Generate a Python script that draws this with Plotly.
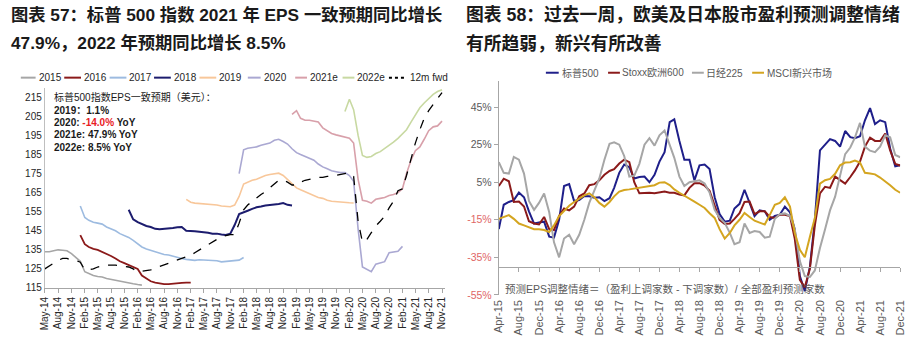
import pandas as pd
import plotly.graph_objects as go

W, H = 922, 350

# ---------------- Left chart data (S&P 500 EPS consensus, USD) ----------------
eps_2015_start = "2014-05-01"
eps_2015 = [134, 134, 134.5, 135, 134.8, 134.5, 133, 131, 129, 123.5, 122.5, 121.5,
            121, 120.8, 120, 119.5, 119, 118.5, 117.8, 117.5, 117.2, 116.8, 116.5]
eps_2016_start = "2015-01-01"
eps_2016 = [142.7, 138, 136.5, 135.5, 135, 134, 133, 131.8, 130.5, 129, 128, 127,
            126.2, 125, 121.5, 119.8, 118.5, 117.8, 117.3, 117, 117, 117.3, 117.5,
            117.7, 117.8, 117.8]
eps_2017_start = "2015-01-01"
eps_2017 = [158, 152, 150.5, 149.5, 149, 148.5, 147, 146, 145, 143.5,
            142.5, 141.5, 140, 138, 136.5, 135.5, 134.8, 134, 133.2, 132.6,
            132.3, 131.6, 131, 130.5, 130, 129.7, 129.5, 129.8, 129.6, 129.5,
            129.3, 129.3, 128.7, 129, 129.2, 129.3, 129.6, 131]
eps_2018_start = "2015-12-01"
eps_2018 = [156, 151, 149.5, 148.5, 147.5, 147, 146, 145.8, 146, 146,
            146.5, 146.8, 147, 145, 145, 144.8, 144.5, 144.3, 144, 143.5,
            143.5, 143, 142.8, 143.5, 148, 153.8, 154.5, 155.5, 156.5, 157.3,
            157.7, 158.3, 158.5, 158.6, 159, 159.5, 158.6, 158.3]
eps_2019_start = "2017-01-01"
eps_2019 = [161.5, 160, 159.5, 159.3, 159.2, 159, 158.8, 158.5, 158, 157.8,
            157.6, 158.5, 163, 169.5, 170.5, 171.5, 172, 173, 174, 174.5,
            175, 175.2, 174, 172, 169.5, 167.5, 166.5, 165.5, 164.5, 163.5,
            162.5, 162, 161, 160.5, 160.2, 160, 159.8, 159.7, 159.6]
eps_2020_start = "2018-01-01"
eps_2020 = [175, 187.5, 188.3, 188.5, 189, 189.8, 190.5, 191, 192.5, 193,
            191.8, 190.5, 188, 186, 185, 184, 183.3, 182, 180, 178.5,
            177.5, 176.5, 176, 175.5, 175.5, 174, 171, 146, 126, 124.5,
            123.5, 127.5, 128, 128.8, 133.5, 134, 134.2, 136.8]
eps_2021e_start = "2019-01-01"
eps_2021e = [206, 208, 204, 203, 203, 202.5, 202, 199, 197.5, 196,
             195.3, 194.8, 194.3, 193.5, 191, 172, 161, 160.5, 159.5, 161.5,
             162, 162.5, 163.5, 164, 165, 167, 175, 182, 187, 189,
             193, 197.5, 199.5, 200, 202.5]
eps_2022e_start = "2020-01-01"
eps_2022e = [207.5, 214, 208.5, 195, 184.5, 183.5, 184, 185.5, 186.5, 188,
             190, 191.5, 193.5, 196, 198, 202, 206, 209.5, 212, 214.5,
             216.5, 218, 219]
fwd_12m_start = "2014-05-01"
fwd_12m = [125, 126.5, 128, 129.5, 130.5, 130.5, 129.5, 129.5, 128.5, 124.5,
           124.5, 125, 126, 126.5, 127, 127, 127, 126.5, 126.3, 126,
           125, 123.5, 123.8, 124, 124.5, 125.5, 126.2, 127, 128, 128.8,
           129.5, 130.5, 131.3, 132, 133.5, 135, 136.5, 138, 139.2, 140.5,
           141.5, 142.5, 143, 143, 149, 156, 158.5, 160.5, 162, 164,
           165.5, 167.5, 170, 171.5, 171.5, 170.5, 169, 169, 170.5, 171.5,
           172, 172.5, 173, 173, 173.5, 173.5, 174, 174.5, 175, 175.5,
           173.5, 150, 139, 140.5, 144, 147.5, 150, 152.6, 157, 160.5,
           166, 167, 174, 183, 191, 198, 204, 208, 211, 214, 217.5]

left_names = ["2015", "2016", "2017", "2018", "2019", "2020", "2021e", "2022e", "12m fwd"]
left_starts = [eps_2015_start, eps_2016_start, eps_2017_start, eps_2018_start,
               eps_2019_start, eps_2020_start, eps_2021e_start, eps_2022e_start, fwd_12m_start]
left_values = [eps_2015, eps_2016, eps_2017, eps_2018, eps_2019, eps_2020,
               eps_2021e, eps_2022e, fwd_12m]
left_yticks = [115, 125, 135, 145, 155, 165, 175, 185, 195, 205, 215]

# ---------------- Right chart data (EPS revision sentiment, %) ----------------
right_start = "2015-04-01"
sp500 = [-20, -7, -5.5, -4.5, -0.5, -3, -10.5, -17, -16.5, -16,
         -24, -24.5, -15, 3, 4, -5, -4.5, -2.3, -2.5, -3.2,
         -3, -5, -3.5, 2, 10, 14.4, 13, 7, 7.8, 8,
         5, 9, 16, 21, 37, 38.5, 27, 17, 17, 6,
         14, 14.4, 12, -3, -12, -16, -15.5, -9, -6.5, 1,
         -6, -13, -10, -10.5, -15, -13, -12.3, -8, -11, -20,
         -45, -53, -40, -15, 22, 25.3, 28, 27, 24, 32.3,
         29, 28.5, 29.5, 38, 44.5, 36, 38, 37, 23, 13.5, 14]
stoxx600 = [3, 6.9, 5.5, -5.5, -5.3, -7.9, -15.8, -17, -17.5, -13.5,
            -20, -20.5, -13, -9, -10, -8, -2.5, -1, 3.4, 4,
            6, 9, 11, 12, 15, 17, 15.7, 5, -0.9, -0.6,
            -0.6, -0.8, -0.5, 0, -0.6, -0.6, -1.5, -2, 2, 4.5,
            4.5, 3.2, 0.5, -7, -15, -17.2, -17, -14.5, -11.5, -5.5,
            -5.3, -12, -10.5, -10.5, -13.5, -14, -12.3, -12.3, -13, -25,
            -47, -51, -41, -18, -1, 2.6, 2, 8, 6.1, 4.3,
            7.8, 11.3, 16, 24, 28.8, 27, 27, 31, 22, 14.8, 13.9]
nikkei225 = [15.7, 10, 9.6, 18.5, 17, 9.6, -5, -9.7, -6, -1,
             -11, -27, -35, -25, -23, -28, -23, -15, -6, 1,
             7, 17, 25.5, 26.3, 25, 19, 8, 8.5, 14.8, 25,
             28.5, 24.5, 30, 32.6, 25, 18, 8, 3, 5, 5.5,
             6, 4.3, -0.5, -9.7, -14, -16.6, -22, -28, -27, -17,
             -22, -21, -21.5, -24.5, -24, -14.5, -12, -11.6, -13, -20,
             -37, -45, -45.5, -42, -30, -20, -10, -2.7, 9, 20,
             23.5, 28.8, 36.6, 24, 21.8, 21, 24, 30, 29, 19.5, 18.3]
msci_em = [-14.5, -13.5, -12.5, -14.5, -17, -18, -19.2, -20, -20.1, -20.5,
           -21.5, -18, -13, -10, -7.5, -5.5, -3.5, -2, -0.9, -3,
           -6, -8, -5.5, -2.5, 0, 0.9, 1.2, 1.7, 2, 2.6,
           3, 3.4, 4.8, 5, 3.5, 1.2, -0.6, -2, -3.8, -5.3,
           -7, -8.7, -11.5, -14, -20, -25, -22, -18, -15, -11.4,
           -13.5, -15.5, -16.5, -17.5, -12.5, -7, -6, -3, -8, -22,
           -31, -35, -24, -14, 4.3, 6.1, 6.8, 9.5, 14, 15.5,
           15.7, 16.5, 15.5, 10, 9.6, 9.2, 7.5, 5.5, 3.4, 1, -0.6]
right_names = ["标普500", "Stoxx欧洲600", "日经225", "MSCI新兴市场"]
right_values = [sp500, stoxx600, nikkei225, msci_em]
right_yticks = [-55, -35, -15, 5, 25, 45]

# ---------------- Styles ----------------
left_colors = ["#a6a6a6", "#8b1a1a", "#9dbbe0", "#1c1c6e", "#f8c79a", "#aaa8d2",
               "#d8a0aa", "#c8d9a2", "#000000"]
left_widths = [1.6, 1.8, 1.6, 2.0, 1.6, 1.6, 1.6, 1.6, 1.3]
right_colors = ["#1f1f8a", "#8b1a1a", "#a6a6a6", "#d4a520"]
FONT = "Liberation Sans, Arial, Noto Sans CJK SC, sans-serif"


def px_x(p):
    return p / W


def px_y(p):
    return 1 - p / H


fig = go.Figure()

for name, start, vals, col, lw in zip(left_names, left_starts, left_values, left_colors, left_widths):
    dates = pd.date_range(start, periods=len(vals), freq="MS")
    fig.add_trace(go.Scatter(
        x=dates, y=vals, mode="lines", name=name, xaxis="x", yaxis="y",
        line=dict(color=col, width=lw, dash="dash" if name == "12m fwd" else "solid"),
    ))

for name, vals, col in zip(right_names, right_values, right_colors):
    dates = pd.date_range(right_start, periods=len(vals), freq="MS")
    fig.add_trace(go.Scatter(
        x=dates, y=vals, mode="lines", name=name, xaxis="x2", yaxis="y2",
        line=dict(color=col, width=2),
    ))

neg_col = "#e06666"
right_ticktext = [
    (f"<span style='color:{neg_col}'>{v}%</span>" if v < 0 else f"{v}%") for v in right_yticks
]

fig.update_layout(
    width=W, height=H, margin=dict(l=0, r=0, t=0, b=0),
    paper_bgcolor="white", plot_bgcolor="white", showlegend=False,
    font=dict(family=FONT, size=10, color="#262626"),
    xaxis=dict(
        domain=[px_x(39.3), px_x(445)], range=["2014-05-01", "2021-11-23"],
        type="date", dtick="M3", tick0="2014-05-01", tickformat="%b-%y",
        tickangle=-90, ticks="outside", ticklen=4, tickcolor="#a6a6a6",
        showline=True, linecolor="#a6a6a6", linewidth=1, showgrid=False, zeroline=False,
        tickfont=dict(size=10, color="#262626"), anchor="y",
    ),
    yaxis=dict(
        domain=[1 - 293 / H, 1 - 89.3 / H], range=[115, 220],
        tickvals=left_yticks, showline=True, linecolor="#bfbfbf", linewidth=1,
        showgrid=False, zeroline=False, ticks="", tickfont=dict(size=10, color="#262626"),
        anchor="x",
    ),
    xaxis2=dict(
        domain=[px_x(499.3), px_x(906)], range=["2015-04-01", "2021-12-01"],
        type="date", dtick="M4", tick0="2015-04-01", tickformat="%b-%y",
        tickangle=-90, ticks="outside", ticklen=4, tickcolor="#a6a6a6",
        showline=True, linecolor="#a6a6a6", linewidth=1, showgrid=False, zeroline=False,
        tickfont=dict(size=11, color="#595959"),
        anchor="free", position=1 - 271.3 / H, ticklabelstandoff=24,
    ),
    yaxis2=dict(
        domain=[1 - 300 / H, 1 - 82.3 / H], range=[-55, 59],
        tickvals=right_yticks, ticktext=right_ticktext,
        showline=True, linecolor="#a6a6a6", linewidth=1, showgrid=False, zeroline=False,
        ticks="outside", ticklen=4, tickcolor="#a6a6a6",
        tickfont=dict(size=10.5, color="#595959"), anchor="x2",
    ),
)

annotations = []
# Titles (x, y, text, size)
titles = [
    (3, 15, "<b>图表 57：标普 500 指数 2021 年 EPS 一致预期同比增长</b>", 17.3),
    (3, 44, "<b>47.9%，2022 年预期同比增长 8.5%</b>", 17.3),
    (464, 15, "<b>图表 58：过去一周，欧美及日本股市盈利预测调整情绪</b>", 17.8),
    (464, 44, "<b>有所趋弱，新兴有所改善</b>", 17.8),
]
for x, y, t, s in titles:
    annotations.append(dict(x=px_x(x), y=px_y(y), xref="paper", yref="paper", text=t,
                            showarrow=False, xanchor="left", yanchor="middle",
                            font=dict(family=FONT, size=s, color="#1a1a1a")))

# Left inner notes
notes = [
    (99, "标普500指数EPS一致预期（美元）："),
    (112, "<b>2019：1.1%</b>"),
    (124.5, "<b>2020: <span style='color:#e8201f'>-14.0%</span> YoY</b>"),
    (137, "<b>2021e: 47.9% YoY</b>"),
    (150, "<b>2022e: 8.5% YoY</b>"),
]
for y, t in notes:
    annotations.append(dict(x=px_x(47), y=px_y(y), xref="paper", yref="paper", text=t,
                            showarrow=False, xanchor="left", yanchor="middle",
                            font=dict(family=FONT, size=10, color="#1a1a1a")))

# Right footnote
annotations.append(dict(x=px_x(504), y=px_y(294), xref="paper", yref="paper",
                        text="预测EPS调整情绪＝（盈利上调家数 - 下调家数）/ 全部盈利预测家数",
                        showarrow=False, xanchor="left", yanchor="middle",
                        font=dict(family=FONT, size=10.5, color="#595959")))

# Manual legends (key line x0, x1, text x)
shapes = []
left_leg_pos = [(15, 30, 31), (59, 76, 77), (105, 122, 123), (150, 167, 168), (196, 213, 214),
                (245, 258, 259), (293, 305, 306), (341, 353, 354), (388, 405, 407)]
for (x0, x1, tx), name, col in zip(left_leg_pos, left_names, left_colors):
    shapes.append(dict(type="line", xref="paper", yref="paper", x0=px_x(x0), x1=px_x(x1),
                       y0=px_y(79), y1=px_y(79),
                       line=dict(color=col, width=2, dash="dot" if name == "12m fwd" else "solid")))
    annotations.append(dict(x=px_x(tx), y=px_y(79), xref="paper", yref="paper", text=name,
                            showarrow=False, xanchor="left", yanchor="middle",
                            font=dict(family=FONT, size=10, color="#262626")))

right_leg_pos = [(547, 560, 561), (610, 622, 622), (695, 707, 707), (756, 768, 769)]
for (x0, x1, tx), name, col in zip(right_leg_pos, right_names, right_colors):
    shapes.append(dict(type="line", xref="paper", yref="paper", x0=px_x(x0), x1=px_x(x1),
                       y0=px_y(74), y1=px_y(74), line=dict(color=col, width=2)))
    annotations.append(dict(x=px_x(tx), y=px_y(74), xref="paper", yref="paper", text=name,
                            showarrow=False, xanchor="left", yanchor="middle",
                            font=dict(family=FONT, size=10, color="#595959")))

fig.update_layout(annotations=annotations, shapes=shapes)
fig.write_html("out.html")
